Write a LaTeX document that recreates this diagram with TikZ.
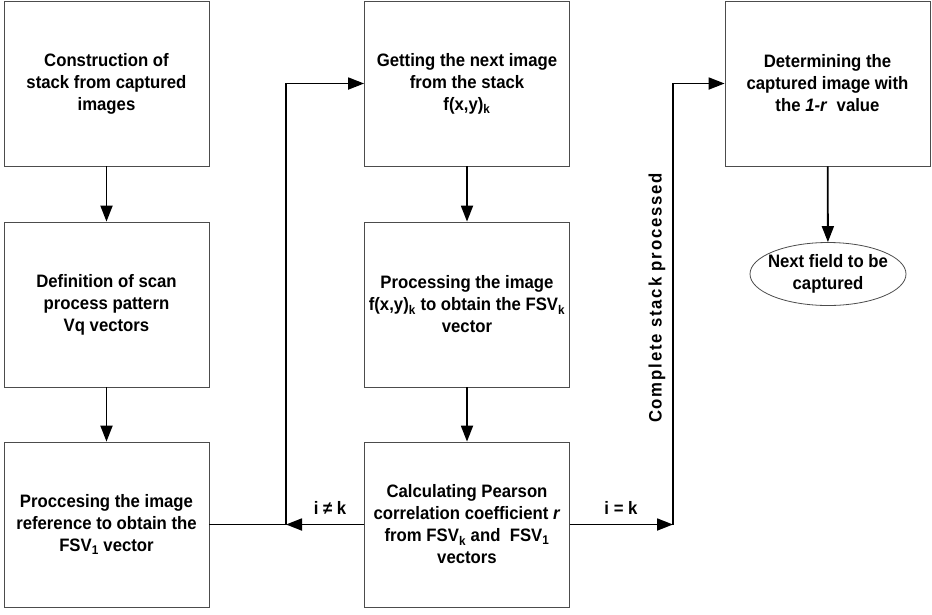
\documentclass[tikz,border=0pt]{standalone}
\usepackage{fontspec}
\setmainfont{Liberation Sans}[FakeStretch=0.93]
\usepackage{tikz}
\usetikzlibrary{arrows.meta}
\usetikzlibrary{shapes.geometric}
\newcommand{\boxfont}{\bfseries\fontsize{18}{22}\selectfont}
\tikzstyle{process}=[draw=black!70, line width=0.8pt, inner sep=0, align=center,
                     minimum width=205pt, minimum height=165pt, font=\boxfont]
\tikzstyle{terminal}=[process, ellipse, inner xsep=-5pt, inner ysep=1pt,
                      minimum width=156pt, minimum height=63pt]
\tikzstyle{flowline}=[line width=1.8pt]
\tikzstyle{flow}=[flowline, -{Triangle[length=16pt, width=12pt]}]
\tikzstyle{flowchart}=[x=1pt, y=-1pt,
                       % Branch labels next to the connectors.
                       every node/.style={font=\boxfont}]

\begin{document}
\begin{tikzpicture}[flowchart]
        \useasboundingbox (0, 0) rectangle (932, 614);
        \node[process] (stack) at (106.5, 83.5) {Construction of\\stack from captured\\images};
        \node[process] (scan) at (106.5, 304.5) {Definition of scan\\process pattern\\Vq vectors};
        \node[process] (ref) at (106.5, 524.5) {Proccesing the image\\reference to obtain the\\FSV\textsubscript{1} vector};
        \node[process] (next) at (467, 83.5) {Getting the next image\\from the stack\\f(x,y)\textsubscript{k}};
        \node[process] (fsv) at (467, 304.5) {Processing the image\\f(x,y)\textsubscript{k} to obtain the FSV\textsubscript{k}\\vector};
        \node[process] (pearson) at (467, 524.5) {Calculating Pearson\\correlation coefficient \textit{r}\\from FSV\textsubscript{k} and\ \ FSV\textsubscript{1}\\vectors};
        \node[process] (best) at (827.5, 83.5) {Determining the\\captured image with\\the \textit{1-r}\ \ value};
        \node[terminal] (field) at (828, 274) {Next field to be\\captured};
        \coordinate (back) at (286, 524.5);
        \coordinate (done) at (673, 524.5);
        \draw[flow] (stack) -- (scan);
        \draw[flow] (scan) -- (ref);
        \draw[flow] (next) -- (fsv);
        \draw[flow] (fsv) -- (pearson);
        \draw[flow] (best) -- (field);
        \draw[flowline] (ref.east) -- (back);
        \draw[flow] (pearson.west) -- (back);
        \draw[flow] (back) |- (next.west);
        \draw[flow] (pearson.east) -- (done);
        \draw[flow] (done) |- (best.west);
        \node (ne) at (330, 508) {i ≠ k};
        \node (eq) at (621, 508) {i = k};
        \node[rotate=90] (complete) at (657, 298) {\addfontfeatures{LetterSpace=10}Complete stack processed};
    \end{tikzpicture}
\end{document}
